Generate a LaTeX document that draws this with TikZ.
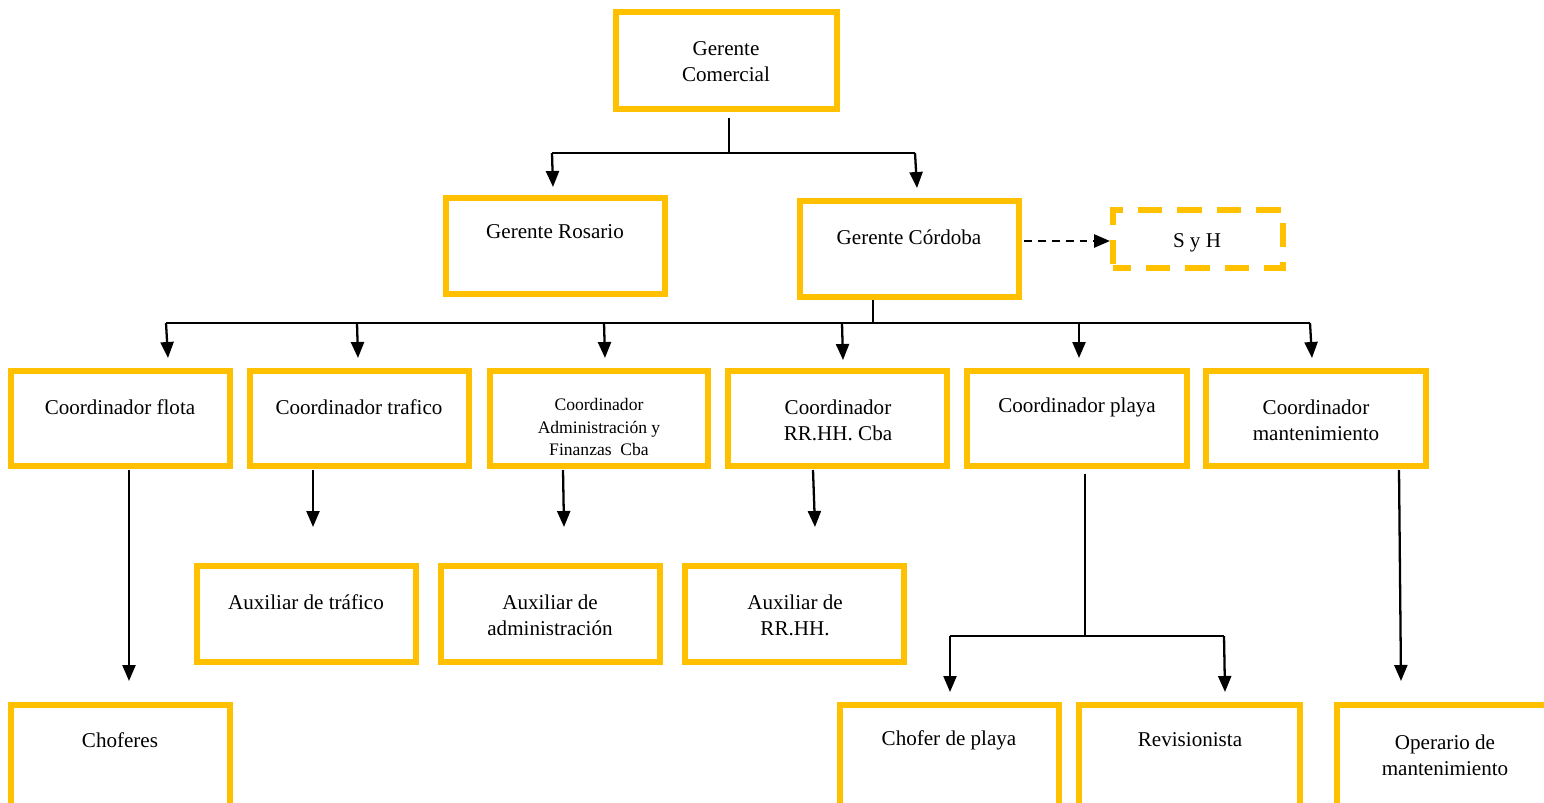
\documentclass[tikz,border=0pt]{standalone}
\usepackage{fontspec}
\setmainfont{Liberation Serif}
\usetikzlibrary{arrows.meta,fit}
\definecolor{gold}{HTML}{FFC000}
\tikzset{
  box/.style={draw=gold, line width=3.6pt, inner sep=0pt, fill=white},
  dbox/.style={draw=gold, line width=3.6pt, inner sep=0pt, dash pattern=on 14pt off 8.5pt, dash phase=4pt},
  txt/.style={align=center, font=\fontsize{12}{14.8}\selectfont, inner sep=0pt},
  stxt/.style={align=center, font=\fontsize{10}{13}\selectfont, inner sep=0pt},
  conn/.style={draw=black, line width=1.3pt},
  arr/.style={conn, -{Triangle[length=0.32cm,width=0.26cm]}},
  darr/.style={arr, line width=1.5pt, dash pattern=on 4.5pt off 3.4pt}
}
\begin{document}
\begin{tikzpicture}[x=0.02cm,y=-0.02cm]
\useasboundingbox (0,0) rectangle (1544,802);
\fill[white] (0,0) rectangle (1544,802);
% boxes
\node[box, fit={(616,12) (837,109)}] (gc) {};
\node[box, fit={(446,198) (665,294)}] (gr) {};
\node[box, fit={(800,201) (1019,297)}] (gcb) {};
\node[dbox, fit={(1113,210) (1283,268)}] (syh) {};
\node[box, fit={(11,371) (230,466)}] (c1) {};
\node[box, fit={(250,371) (469,466)}] (c2) {};
\node[box, fit={(490,371) (708,466)}] (c3) {};
\node[box, fit={(728,371) (947,466)}] (c4) {};
\node[box, fit={(967,371) (1187,466)}] (c5) {};
\node[box, fit={(1206,371) (1426,466)}] (c6) {};
\node[box, fit={(197,566) (416,662)}] (a1) {};
\node[box, fit={(441,566) (660,662)}] (a2) {};
\node[box, fit={(685,566) (904,662)}] (a3) {};
\node[box, fit={(11,705) (230,815)}] (b1) {};
\node[box, fit={(840,705) (1059,815)}] (b2) {};
\node[box, fit={(1079,705) (1300,815)}] (b3) {};
\node[box, fit={(1337,705) (1560,815)}] (b4) {};
% texts
\node[txt] (tgc) at (726,62) {Gerente\\Comercial};
\node[txt] (tgr) at (555,232) {Gerente Rosario};
\node[txt] (tgcb) at (909,237) {Gerente Córdoba};
\node[txt] (tsyh) at (1197,243) {S y H};
\node[txt] (tc1) at (120,407) {Coordinador flota};
\node[txt] (tc2) at (359,407) {Coordinador trafico};
\node[stxt] (tc3) at (599,427) {Coordinador\\Administración y\\Finanzas\ \ Cba};
\node[txt] (tc4) at (838,420) {Coordinador\\RR.HH. Cba};
\node[txt] (tc5) at (1077,407) {Coordinador playa};
\node[txt] (tc6) at (1316,420) {Coordinador\\mantenimiento};
\node[txt] (ta1) at (306,602) {Auxiliar de tráfico};
\node[txt] (ta2) at (550,615) {Auxiliar de\\administración};
\node[txt] (ta3) at (795,615) {Auxiliar de\\RR.HH.};
\node[txt] (tb1) at (120,740) {Choferes};
\node[txt] (tb2) at (949,740) {Chofer de playa};
\node[txt] (tb3) at (1190,740) {Revisionista};
\node[txt] (tb4) at (1445,755) {Operario de\\mantenimiento};
% junction coordinates
\coordinate (s1) at (729,118);
\coordinate (j1) at (729,153);
\coordinate (j1l) at (552,153);
\coordinate (j1r) at (915,153);
\coordinate (e1l) at (553,187);
\coordinate (e1r) at (917,188);
\coordinate (s2) at (873,300);
\coordinate (j2) at (873,323);
\coordinate (j2a) at (166,323);
\coordinate (j2b) at (357,323);
\coordinate (j2c) at (604,323);
\coordinate (j2d) at (842,323);
\coordinate (j2e) at (1079,323);
\coordinate (j2f) at (1310,323);
\coordinate (e2a) at (168,358);
\coordinate (e2b) at (358,358);
\coordinate (e2c) at (605,358);
\coordinate (e2d) at (843,360);
\coordinate (e2e) at (1079,358);
\coordinate (e2f) at (1312,358);
\coordinate (sd) at (1024,241);
\coordinate (ed) at (1110,241);
\coordinate (s3a) at (129,470);
\coordinate (e3a) at (129,681);
\coordinate (s3b) at (313,470);
\coordinate (e3b) at (313,527);
\coordinate (s3c) at (563,470);
\coordinate (e3c) at (564,527);
\coordinate (s3d) at (813,470);
\coordinate (e3d) at (815,527);
\coordinate (s3e) at (1085,474);
\coordinate (j3e) at (1085,636);
\coordinate (j3l) at (950,636);
\coordinate (j3r) at (1224,636);
\coordinate (e3l) at (950,692);
\coordinate (e3r) at (1225,692);
\coordinate (s3f) at (1399,470);
\coordinate (e3f) at (1401,681);
% connectors
\draw[conn] (s1) -- (j1);
\draw[conn] (j1l) -- (j1r);
\draw[arr] (j1l) -- (e1l);
\draw[arr] (j1r) -- (e1r);
\draw[conn] (s2) -- (j2);
\draw[conn] (j2a) -- (j2f);
\draw[arr] (j2a) -- (e2a);
\draw[arr] (j2b) -- (e2b);
\draw[arr] (j2c) -- (e2c);
\draw[arr] (j2d) -- (e2d);
\draw[arr] (j2e) -- (e2e);
\draw[arr] (j2f) -- (e2f);
\draw[darr] (sd) -- (ed);
\draw[arr] (s3a) -- (e3a);
\draw[arr] (s3b) -- (e3b);
\draw[arr] (s3c) -- (e3c);
\draw[arr] (s3d) -- (e3d);
\draw[conn] (s3e) -- (j3e);
\draw[conn] (j3l) -- (j3r);
\draw[arr] (j3l) -- (e3l);
\draw[arr] (j3r) -- (e3r);
\draw[arr] (s3f) -- (e3f);
\end{tikzpicture}
\end{document}
